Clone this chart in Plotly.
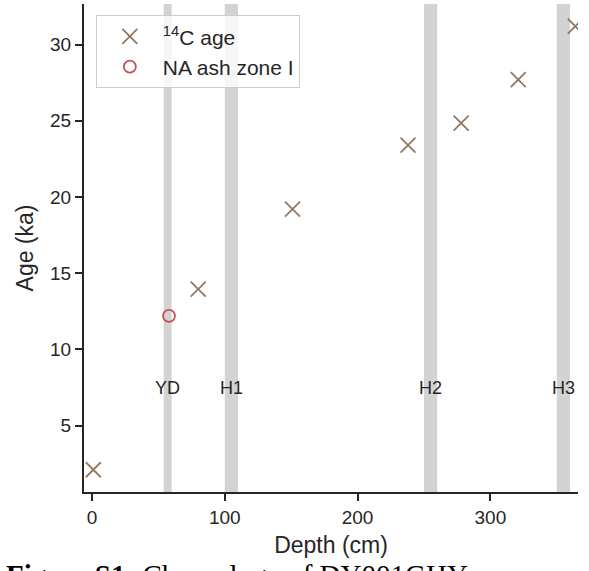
import plotly.graph_objects as go

# Data
c14_depth = [1, 80, 151, 238, 278, 321, 364]
c14_age = [2.1, 13.95, 19.2, 23.4, 24.85, 27.7, 31.2]
ash_depth = [58]
ash_age = [12.2]

band_names = ["YD", "H1", "H2", "H3"]
band_start = [54, 100, 250, 350]
band_end = [60, 110, 260, 360]
band_label_y = 7.45

TXT = "#262626"
FONT = "Liberation Sans, Arial, sans-serif"

fig = go.Figure()

fig.add_trace(go.Scatter(
    x=c14_depth, y=c14_age, mode="markers", name="<sup>14</sup>C age",
    marker=dict(symbol="x-thin", size=15, line=dict(width=1.8, color="#937860"), color="#937860"),
))
fig.add_trace(go.Scatter(
    x=ash_depth, y=ash_age, mode="markers", name="NA ash zone I",
    marker=dict(symbol="circle-open", size=12, line=dict(width=1.8, color="#c44e52"), color="#c44e52"),
))

for n, s, e in zip(band_names, band_start, band_end):
    fig.add_shape(type="rect", xref="x", yref="paper", x0=s, x1=e, y0=0, y1=1,
                  fillcolor="#d3d3d3", line=dict(width=0), layer="below")
    fig.add_annotation(x=(s + e) / 2, y=band_label_y, text=n, showarrow=False,
                       font=dict(size=18, color=TXT, family=FONT))

fig.add_annotation(xref="paper", yref="paper", x=-0.162, y=-0.133, xanchor="left", yanchor="top",
                   text="<b>Figure S1:</b> Chronology of DY001GHY", showarrow=False,
                   font=dict(size=29, color="#000000", family="Liberation Serif, Times New Roman, serif"))

fig.update_layout(
    width=589, height=571,
    margin=dict(l=84, r=11, t=4, b=79),
    plot_bgcolor="white", paper_bgcolor="white",
    font=dict(family=FONT, size=19, color=TXT),
    showlegend=True,
    legend=dict(x=0.024, y=0.977, xanchor="left", yanchor="top",
                bgcolor="rgba(255,255,255,0.8)", bordercolor="#cccccc", borderwidth=1,
                font=dict(size=21, color=TXT), itemwidth=56, tracegroupgap=2),
    xaxis=dict(range=[-6, 366], tickvals=[0, 100, 200, 300], showgrid=False, zeroline=False,
               showline=True, linecolor=TXT, linewidth=2, ticks="outside", ticklen=7,
               tickwidth=1.6, tickcolor=TXT, title=dict(text="Depth (cm)", standoff=10),
               tickfont=dict(size=19)),
    yaxis=dict(range=[0.64, 32.66], tickvals=[5, 10, 15, 20, 25, 30], showgrid=False, zeroline=False,
               showline=True, linecolor=TXT, linewidth=2, ticks="outside", ticklen=7,
               tickwidth=1.6, tickcolor=TXT, title=dict(text="Age (ka)", standoff=10),
               tickfont=dict(size=19)),
)

fig.write_html("out.html")
